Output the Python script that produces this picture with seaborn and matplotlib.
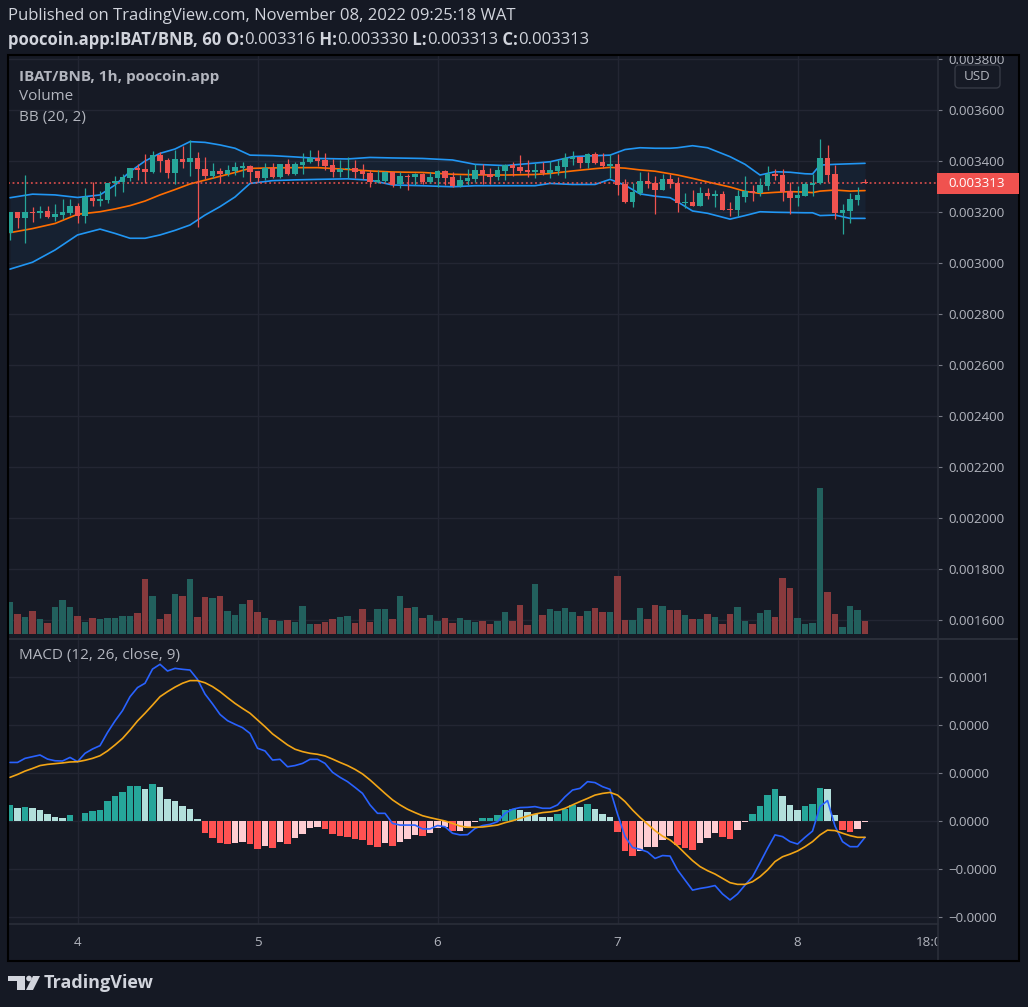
import numpy as np
import pandas as pd
import matplotlib
matplotlib.use("Agg")
import matplotlib.pyplot as plt
import seaborn as sns
from matplotlib.patches import Rectangle, Circle, Polygon, FancyBboxPatch
from matplotlib.lines import Line2D
from matplotlib.transforms import IdentityTransform

# ---------------- data ----------------
times = pd.date_range("2022-11-03 15:00", periods=115, freq="h")

opens = [0.003116, 0.003199, 0.003178, 0.003200, 0.003197, 0.003204, 0.003180, 0.003188, 0.003197, 0.003223,
         0.003186, 0.003254, 0.003244, 0.003248, 0.003312, 0.003319, 0.003334, 0.003374, 0.003368, 0.003358,
         0.003423, 0.003404, 0.003354, 0.003408, 0.003397, 0.003413, 0.003368, 0.003342, 0.003361, 0.003348,
         0.003361, 0.003374, 0.003380, 0.003361, 0.003332, 0.003371, 0.003336, 0.003387, 0.003349, 0.003384,
         0.003395, 0.003413, 0.003404, 0.003384, 0.003358, 0.003367, 0.003374, 0.003361, 0.003351, 0.003316,
         0.003321, 0.003358, 0.003308, 0.003341, 0.003338, 0.003348, 0.003319, 0.003334, 0.003361, 0.003338,
         0.003302, 0.003321, 0.003329, 0.003365, 0.003349, 0.003336, 0.003362, 0.003384, 0.003378, 0.003365,
         0.003358, 0.003365, 0.003351, 0.003362, 0.003378, 0.003406, 0.003417, 0.003393, 0.003426, 0.003397,
         0.003380, 0.003387, 0.003308, 0.003240, 0.003273, 0.003321, 0.003312, 0.003286, 0.003329, 0.003315,
         0.003236, 0.003238, 0.003223, 0.003273, 0.003264, 0.003271, 0.003212, 0.003208, 0.003260, 0.003284,
         0.003273, 0.003302, 0.003349, 0.003345, 0.003282, 0.003256, 0.003264, 0.003306, 0.003312, 0.003413,
         0.003349, 0.003197, 0.003204, 0.003247, 0.003316]
highs = [0.003199, 0.003199, 0.003345, 0.003221, 0.003223, 0.003223, 0.003231, 0.003251, 0.003251, 0.003234,
         0.003293, 0.003316, 0.003282, 0.003312, 0.003342, 0.003349, 0.003371, 0.003387, 0.003427, 0.003439,
         0.003436, 0.003410, 0.003443, 0.003460, 0.003482, 0.003436, 0.003414, 0.003391, 0.003371, 0.003384,
         0.003395, 0.003395, 0.003384, 0.003361, 0.003391, 0.003391, 0.003387, 0.003406, 0.003395, 0.003430,
         0.003443, 0.003443, 0.003433, 0.003408, 0.003404, 0.003414, 0.003404, 0.003387, 0.003365, 0.003365,
         0.003361, 0.003358, 0.003358, 0.003348, 0.003354, 0.003354, 0.003358, 0.003365, 0.003365, 0.003358,
         0.003345, 0.003367, 0.003388, 0.003388, 0.003371, 0.003382, 0.003388, 0.003397, 0.003423, 0.003404,
         0.003393, 0.003397, 0.003401, 0.003404, 0.003433, 0.003439, 0.003417, 0.003430, 0.003436, 0.003430,
         0.003426, 0.003426, 0.003329, 0.003312, 0.003358, 0.003358, 0.003342, 0.003348, 0.003348, 0.003338,
         0.003273, 0.003286, 0.003299, 0.003293, 0.003286, 0.003282, 0.003238, 0.003286, 0.003341, 0.003306,
         0.003334, 0.003380, 0.003368, 0.003368, 0.003319, 0.003302, 0.003316, 0.003348, 0.003486, 0.003463,
         0.003384, 0.003231, 0.003273, 0.003297, 0.003330]
lows = [0.003090, 0.003138, 0.003080, 0.003162, 0.003175, 0.003175, 0.003166, 0.003171, 0.003188, 0.003158,
        0.003158, 0.003225, 0.003223, 0.003234, 0.003264, 0.003280, 0.003321, 0.003325, 0.003312, 0.003354,
        0.003358, 0.003332, 0.003308, 0.003374, 0.003342, 0.003142, 0.003328, 0.003332, 0.003312, 0.003342,
        0.003345, 0.003338, 0.003316, 0.003319, 0.003325, 0.003334, 0.003332, 0.003345, 0.003345, 0.003348,
        0.003391, 0.003382, 0.003365, 0.003336, 0.003338, 0.003332, 0.003334, 0.003328, 0.003299, 0.003312,
        0.003316, 0.003299, 0.003293, 0.003286, 0.003306, 0.003310, 0.003312, 0.003299, 0.003306, 0.003299,
        0.003299, 0.003306, 0.003319, 0.003308, 0.003308, 0.003325, 0.003325, 0.003341, 0.003351, 0.003338,
        0.003332, 0.003345, 0.003334, 0.003345, 0.003332, 0.003384, 0.003371, 0.003371, 0.003387, 0.003371,
        0.003332, 0.003267, 0.003234, 0.003221, 0.003267, 0.003293, 0.003192, 0.003286, 0.003293, 0.003201,
        0.003214, 0.003223, 0.003223, 0.003251, 0.003221, 0.003208, 0.003186, 0.003186, 0.003238, 0.003243,
        0.003264, 0.003286, 0.003325, 0.003243, 0.003192, 0.003223, 0.003264, 0.003263, 0.003308, 0.003319,
        0.003172, 0.003114, 0.003158, 0.003227, 0.003313]
closes = [0.003199, 0.003178, 0.003199, 0.003197, 0.003203, 0.003180, 0.003192, 0.003199, 0.003223, 0.003186,
          0.003257, 0.003243, 0.003251, 0.003312, 0.003321, 0.003336, 0.003371, 0.003366, 0.003358, 0.003423,
          0.003400, 0.003354, 0.003408, 0.003397, 0.003413, 0.003367, 0.003342, 0.003361, 0.003349, 0.003365,
          0.003376, 0.003380, 0.003358, 0.003334, 0.003371, 0.003338, 0.003387, 0.003348, 0.003387, 0.003395,
          0.003413, 0.003401, 0.003380, 0.003358, 0.003368, 0.003374, 0.003358, 0.003349, 0.003319, 0.003325,
          0.003358, 0.003306, 0.003341, 0.003337, 0.003349, 0.003319, 0.003336, 0.003361, 0.003334, 0.003302,
          0.003325, 0.003334, 0.003365, 0.003345, 0.003336, 0.003365, 0.003384, 0.003374, 0.003361, 0.003358,
          0.003365, 0.003351, 0.003365, 0.003380, 0.003413, 0.003414, 0.003393, 0.003426, 0.003393, 0.003380,
          0.003387, 0.003306, 0.003240, 0.003277, 0.003321, 0.003310, 0.003286, 0.003329, 0.003310, 0.003236,
          0.003239, 0.003225, 0.003273, 0.003263, 0.003271, 0.003208, 0.003208, 0.003263, 0.003282, 0.003276,
          0.003306, 0.003349, 0.003342, 0.003280, 0.003256, 0.003267, 0.003308, 0.003315, 0.003413, 0.003345,
          0.003197, 0.003208, 0.003251, 0.003267, 0.003313]
volumes = [96, 60, 51, 69, 45, 33, 81, 102, 81, 54,
           36, 48, 45, 48, 48, 54, 54, 63, 162, 114,
           45, 60, 120, 114, 162, 51, 111, 108, 114, 69,
           57, 90, 102, 66, 48, 42, 39, 42, 36, 84,
           30, 30, 36, 45, 51, 54, 33, 75, 36, 75,
           75, 45, 114, 78, 81, 48, 57, 39, 48, 33,
           48, 42, 36, 39, 30, 39, 66, 39, 87, 27,
           150, 57, 75, 69, 78, 66, 54, 69, 78, 66,
           66, 171, 42, 42, 78, 45, 87, 84, 72, 72,
           57, 45, 45, 60, 51, 30, 60, 81, 39, 30,
           63, 72, 51, 165, 138, 48, 30, 33, 435, 126,
           60, 21, 84, 72, 39]

# Bollinger Bands (20, 2) read at selected candles
bb_idx = [0, 3, 6, 9, 12, 14, 16, 18, 20, 22, 24, 26, 28, 30, 32, 35, 38, 41, 45, 48, 51, 55, 59, 62, 66,
          70, 72, 75, 78, 80, 82, 84, 86, 88, 89, 91, 93, 96, 98, 100, 102, 104, 106, 107, 108, 110, 112, 114]
bb_upper = [0.003256, 0.003270, 0.003267, 0.003257, 0.003267, 0.003306, 0.003358, 0.003400, 0.003430, 0.003447,
            0.003476, 0.003473, 0.003463, 0.003450, 0.003423, 0.003421, 0.003416, 0.003410, 0.003408, 0.003414,
            0.003412, 0.003410, 0.003404, 0.003387, 0.003382, 0.003392, 0.003397, 0.003417, 0.003421, 0.003423,
            0.003445, 0.003452, 0.003450, 0.003450, 0.003452, 0.003460, 0.003452, 0.003417, 0.003387, 0.003345,
            0.003358, 0.003356, 0.003350, 0.003349, 0.003384, 0.003387, 0.003389, 0.003391]
bb_basis = [0.003119, 0.003135, 0.003155, 0.003191, 0.003201, 0.003212, 0.003225, 0.003243, 0.003267, 0.003288,
            0.003310, 0.003325, 0.003340, 0.003355, 0.003371, 0.003373, 0.003374, 0.003374, 0.003367, 0.003361,
            0.003357, 0.003355, 0.003348, 0.003346, 0.003345, 0.003347, 0.003351, 0.003361, 0.003370, 0.003375,
            0.003372, 0.003365, 0.003360, 0.003350, 0.003345, 0.003332, 0.003318, 0.003298, 0.003281, 0.003273,
            0.003277, 0.003280, 0.003278, 0.003276, 0.003282, 0.003286, 0.003282, 0.003284]
bb_lower = [0.002976, 0.003003, 0.003051, 0.003110, 0.003133, 0.003116, 0.003097, 0.003097, 0.003110, 0.003128,
            0.003149, 0.003188, 0.003221, 0.003259, 0.003312, 0.003323, 0.003326, 0.003328, 0.003330, 0.003325,
            0.003306, 0.003303, 0.003299, 0.003303, 0.003303, 0.003303, 0.003312, 0.003308, 0.003308, 0.003328,
            0.003305, 0.003271, 0.003262, 0.003256, 0.003240, 0.003204, 0.003195, 0.003172, 0.003186, 0.003201,
            0.003199, 0.003198, 0.003197, 0.003197, 0.003186, 0.003188, 0.003175, 0.003175]

# MACD (12, 26, close, 9), values in units of 1e-6
macd_line = [24.4, 24.4, 26.1, 26.8, 27.5, 25.8, 25.1, 25.0, 26.5, 24.7,
             28.2, 30.0, 31.4, 36.9, 41.7, 46.0, 51.8, 55.6, 57.4, 63.3,
             65.3, 62.5, 63.6, 63.2, 62.9, 59.0, 52.9, 48.8, 44.4, 41.8,
             40.3, 38.9, 36.5, 30.3, 29.2, 25.4, 25.7, 22.6, 23.1, 24.0,
             25.7, 25.7, 24.0, 20.3, 18.2, 16.4, 14.0, 11.5, 6.7, 3.2,
             3.2, -1.0, -1.7, -1.7, -1.7, -3.3, -3.3, -1.9, -2.4, -5.1,
             -5.8, -5.7, -3.1, -1.9, -1.4, -0.3, 3.2, 4.9, 5.6, 5.7,
             6.0, 5.3, 5.3, 6.7, 10.1, 12.9, 13.6, 16.4, 16.0, 14.3,
             13.2, 2.9, -6.5, -11.0, -11.8, -12.9, -15.6, -14.4, -14.6, -20.4,
             -24.6, -28.8, -28.1, -27.6, -26.9, -30.4, -32.9, -30.4, -26.7, -23.2,
             -17.4, -11.4, -5.8, -6.5, -8.6, -9.6, -6.8, -4.2, 6.0, 8.5,
             -2.1, -8.6, -10.7, -10.7, -6.8]
signal_line = [18.2, 19.4, 20.8, 21.9, 23.1, 23.6, 23.9, 24.2, 24.6, 24.7,
               25.3, 26.1, 27.2, 29.2, 31.7, 34.4, 37.9, 41.7, 44.9, 48.3,
               51.8, 53.9, 55.8, 57.4, 58.5, 58.5, 57.6, 56.0, 53.9, 51.4,
               49.0, 46.9, 44.9, 42.1, 39.3, 36.3, 34.0, 31.7, 29.9, 28.9,
               28.2, 27.8, 27.1, 25.8, 24.4, 23.1, 21.5, 19.6, 17.1, 14.3,
               11.5, 8.8, 6.7, 4.9, 3.5, 2.2, 1.4, 0.7, 0.0, -1.0,
               -2.1, -2.6, -2.6, -2.5, -2.1, -1.7, -0.7, 0.1, 1.1, 2.1,
               2.9, 3.5, 3.8, 4.3, 5.3, 6.7, 8.1, 9.4, 10.8, 11.5,
               11.9, 10.8, 8.1, 4.6, 1.5, -1.3, -4.0, -6.3, -7.9, -10.4,
               -13.5, -16.5, -19.0, -20.7, -22.1, -23.9, -25.7, -26.4, -26.4, -25.3,
               -23.2, -20.4, -16.9, -14.9, -13.8, -12.5, -10.7, -8.6, -5.8, -3.8,
               -4.0, -5.1, -6.1, -6.8, -6.8]
macd_hist = [6.5, 5.3, 5.7, 5.3, 4.4, 2.8, 1.5, 1.1, 2.4, -0.2,
             3.2, 4.0, 4.4, 8.2, 10.3, 12.0, 14.5, 14.7, 13.2, 15.3,
             14.0, 9.1, 8.2, 6.1, 4.9, 0.8, -4.9, -6.9, -9.0, -9.5,
             -9.0, -8.6, -9.5, -11.5, -10.3, -11.1, -8.6, -9.5, -6.9, -5.3,
             -2.8, -2.4, -3.2, -5.3, -6.1, -6.5, -7.4, -7.8, -9.9, -10.7,
             -9.0, -10.3, -8.6, -7.4, -5.7, -6.1, -4.9, -2.8, -2.7, -4.3,
             -4.0, -2.9, -0.3, 1.1, 1.3, 2.5, 4.6, 5.0, 4.6, 3.8,
             3.1, 1.8, 1.7, 2.9, 5.0, 6.7, 5.8, 7.1, 5.0, 2.9,
             1.7, -4.4, -12.4, -14.6, -12.4, -11.0, -10.9, -8.1, -6.4, -10.1,
             -11.1, -12.1, -9.3, -6.9, -4.9, -6.5, -7.5, -3.8, -0.3, 2.9,
             6.2, 10.8, 13.3, 10.4, 6.7, 4.6, 6.2, 7.1, 13.9, 13.3,
             2.5, -3.8, -4.4, -3.5, -0.3]

price_ticks = [0.0016, 0.0018, 0.0020, 0.0022, 0.0024, 0.0026, 0.0028, 0.0030, 0.0032, 0.0034, 0.0036, 0.0038]
macd_ticks = [6e-5, 4e-5, 2e-5, 0.0, -2e-5, -4e-5]
macd_tick_labels = ["0.0001", "0.0000", "0.0000", "0.0000", "\u22120.0000", "\u22120.0000"]
day_ticks = [0, 24, 48, 72, 96, 114]
day_labels = ["4", "5", "6", "7", "8", "18:00"]

# ---------------- style ----------------
W, H = 1028, 1007
BG = "#161a25"
FIGBG = "#151924"
GRID = "#232633"
TXT = "#b2b5be"
UP, DOWN = "#26a69a", "#ef5350"
VUP, VDOWN = "#22605d", "#883a3d"

sns.set_theme(style="dark", rc={"axes.facecolor": BG, "figure.facecolor": FIGBG})
plt.rcParams["font.family"] = ["Open Sans", "DejaVu Sans"]


def px_rect(x0, y0, x1, y1):
    return [x0 / W, 1 - y1 / H, (x1 - x0) / W, (y1 - y0) / H]


fig = plt.figure(figsize=(W / 100, H / 100), dpi=100)
fig.patch.set_facecolor(FIGBG)

hours = ((times - pd.Timestamp("2022-11-04")) / pd.Timedelta(hours=1)).to_numpy()
o = np.array(opens); h = np.array(highs); l = np.array(lows); c = np.array(closes)
up = c >= o
ccol = np.where(up, UP, DOWN)
vcol = np.where(up, VUP, VDOWN)
bb_h = hours[bb_idx]
xl = (-9.27, 114.73)

# ---------------- price pane ----------------
ax = fig.add_axes(px_rect(8, 55, 938, 638))
ax.set_facecolor(BG)
axv = ax.twinx()          # volume overlay (create first: twinx resets tick side)
axv.set_ylim(-12, 1722)
axv.axis("off")
axv.bar(hours, volumes, width=0.86, color=vcol, lw=0)

ax.set_xlim(*xl)
ax.set_ylim(0.0015294, 0.0038157)
for s in ax.spines.values():
    s.set_visible(False)
ax.set_xticks(day_ticks[:5])
ax.set_yticks(price_ticks)
ax.set_yticklabels([f"{v:.6f}" for v in price_ticks])
ax.yaxis.tick_right()
ax.tick_params(axis="y", which="both", left=False, labelleft=False, right=True, labelright=True,
               colors="#787b86", labelcolor=TXT, labelsize=9.6, length=3, pad=4.5, width=0.8)
ax.tick_params(axis="x", length=0, labelbottom=False)
ax.grid(True, color=GRID, lw=1)
ax.set_axisbelow(True)

ax.fill_between(bb_h, bb_lower, bb_upper, color="#2196f3", alpha=0.06, lw=0, zorder=1)
sns.lineplot(x=bb_h, y=bb_upper, ax=ax, color="#2196f3", lw=1.2, errorbar=None, zorder=2)
sns.lineplot(x=bb_h, y=bb_lower, ax=ax, color="#2196f3", lw=1.2, errorbar=None, zorder=2)
sns.lineplot(x=bb_h, y=bb_basis, ax=ax, color="#ff6d00", lw=1.2, errorbar=None, zorder=2)

ax.vlines(hours, l, h, colors=ccol, lw=0.9, zorder=3)
body_lo = np.minimum(o, c)
body_h = np.maximum(np.abs(c - o), 3e-6)
ax.bar(hours, body_h, bottom=body_lo, width=0.7, color=ccol, lw=0, zorder=4)

last = closes[-1]
ax.axhline(last, color=DOWN, lw=1.1, ls=(0, (1.2, 1.8)), zorder=2)
ax.set_xlabel(""); ax.set_ylabel("")

# ---------------- MACD pane ----------------
axm = fig.add_axes(px_rect(8, 640, 938, 924))
axm.set_facecolor(BG)
axm.set_xlim(*xl)
axm.set_ylim(-4.2917e-5, 7.5417e-5)
for s in axm.spines.values():
    s.set_visible(False)
axm.set_yticks(macd_ticks)
axm.set_yticklabels(macd_tick_labels)
axm.yaxis.tick_right()
axm.tick_params(axis="y", colors="#787b86", labelcolor=TXT, labelsize=9.6, length=3, pad=4.5, width=0.8)
axm.set_xticks(day_ticks[:5])
axm.tick_params(axis="x", colors="#787b86", length=3, width=0.8, labelbottom=False)
axm.grid(True, color=GRID, lw=1)
axm.set_axisbelow(True)

hist = np.array(macd_hist) * 1e-6
hcol = []
prev = None
for v in hist:
    if v >= 0:
        hcol.append("#26a69a" if (prev is None or v > prev) else "#b2dfdb")
    else:
        hcol.append("#ff5252" if (prev is None or v < prev) else "#ffcdd2")
    prev = v
axm.bar(hours, hist, width=0.86, color=hcol, lw=0, zorder=2)
sns.lineplot(x=hours, y=np.array(macd_line) * 1e-6, ax=axm, color="#2962ff", lw=1.2, errorbar=None, zorder=3)
sns.lineplot(x=hours, y=np.array(signal_line) * 1e-6, ax=axm, color="#f2a516", lw=1.2, errorbar=None, zorder=3)
axm.set_xlabel(""); axm.set_ylabel("")

# ---------------- time axis ----------------
axt = fig.add_axes(px_rect(8, 924, 938, 961))
axt.set_xlim(*xl)
axt.set_ylim(0, 1)
axt.axis("off")
for hh, lab in zip(day_ticks, day_labels):
    axt.text(hh, 0.49, lab, ha="center", va="center", color=TXT, fontsize=9.6, clip_on=True)

# ---------------- frame / separators ----------------
def hline(y, x0, x1, color, lw):
    fig.add_artist(Line2D([x0 / W, x1 / W], [1 - y / H, 1 - y / H], color=color, lw=lw, transform=fig.transFigure, zorder=6))


def vline(x, y0, y1, color, lw):
    fig.add_artist(Line2D([x / W, x / W], [1 - y0 / H, 1 - y1 / H], color=color, lw=lw, transform=fig.transFigure, zorder=6))


hline(639, 8, 1019, "#2a2e39", 1.5)
hline(924, 8, 938, "#2a2e39", 1.2)
vline(938, 55, 961, "#2a2e39", 1.2)
# cover any label overflow above the frame top
fig.add_artist(Rectangle((938 / W, 1 - 55 / H), 81 / W, 6 / H, transform=fig.transFigure, fc=FIGBG, ec="none", zorder=6))
fig.add_artist(Rectangle((8 / W, 1 - 961 / H), 1011 / W, 906 / H, fill=False, ec="#000000", lw=1.5,
                         transform=fig.transFigure, zorder=7))

# current price label
fig.canvas.draw()
yd = ax.transData.transform((0, last))[1]
fig.add_artist(Rectangle((937, yd - 10.5), 82, 21, transform=IdentityTransform(), fc="#f0524f", ec="none", zorder=8))
fig.text(948 / W, yd / H, f"{last:.6f}", color="white", fontsize=9.6, ha="left", va="center", zorder=9)

# USD box
fig.add_artist(FancyBboxPatch((955, H - 88), 45, 23, boxstyle="round,pad=0,rounding_size=4",
                              transform=IdentityTransform(), fc=BG, ec="#363a45", lw=1, zorder=8))
fig.text(977.5 / W, 1 - 77 / H, "USD", color=TXT, fontsize=9.6, ha="center", va="center", zorder=9)

# ---------------- legends ----------------
fig.text(19 / W, 1 - 77 / H, "IBAT/BNB, 1h, poocoin.app", color=TXT, fontsize=11, fontweight="bold", va="center")
fig.text(19 / W, 1 - 97 / H, "Volume", color=TXT, fontsize=11, va="center")
fig.text(19 / W, 1 - 117 / H, "BB (20, 2)", color=TXT, fontsize=11, va="center")
fig.text(19 / W, 1 - 656 / H, "MACD (12, 26, close, 9)", color=TXT, fontsize=11, va="center")

# ---------------- header ----------------
HEAD = "#d1d4dc"
fig.text(8 / W, 1 - 16 / H, "Published on TradingView.com, November 08, 2022 09:25:18 WAT", color=HEAD,
         fontsize=12, va="center")
renderer = fig.canvas.get_renderer()
pieces = [("poocoin.app:IBAT/BNB, 60 ", "bold"), ("O:", "bold"), (f"{opens[-1]:.6f}", "normal"),
          (" H:", "bold"), (f"{highs[-1]:.6f}", "normal"), (" L:", "bold"), (f"{lows[-1]:.6f}", "normal"),
          (" C:", "bold"), (f"{closes[-1]:.6f}", "normal")]
xp = 8.0
for s, wgt in pieces:
    t = fig.text(xp / W, 1 - 40 / H, s, color=HEAD, fontsize=12, fontweight=wgt, va="center")
    bb = t.get_window_extent(renderer)
    xp += bb.width

# ---------------- TradingView logo ----------------
LOGO = "#d1d4dc"
def yy(y):
    return H - y
fig.add_artist(Rectangle((8, yy(981)), 17, 5, transform=IdentityTransform(), fc=LOGO, ec="none"))
fig.add_artist(Rectangle((17, yy(990)), 8, 14, transform=IdentityTransform(), fc=LOGO, ec="none"))
fig.add_artist(Circle((29, yy(978.5)), 2.8, transform=IdentityTransform(), fc=LOGO, ec="none"))
fig.add_artist(Polygon([(33, yy(976)), (40, yy(976)), (33, yy(990)), (26, yy(990))], closed=True,
                       transform=IdentityTransform(), fc=LOGO, ec="none"))
fig.text(44 / W, 1 - 983 / H, "TradingView", color=LOGO, fontsize=13, fontweight="bold", va="center")

fig.savefig("out.png", dpi=100, facecolor=FIGBG)
